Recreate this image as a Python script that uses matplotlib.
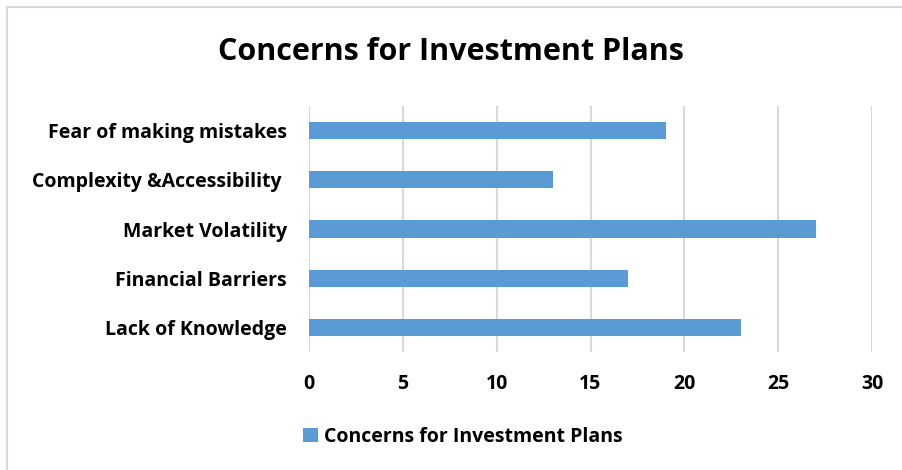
import matplotlib.pyplot as plt
from matplotlib.lines import Line2D

# Survey data
categories = ['Lack of Knowledge', 'Financial Barriers', 'Market Volatility',
              'Complexity &Accessibility ', 'Fear of making mistakes']
counts = [23, 17, 27, 13, 19]
x_ticks = [0, 5, 10, 15, 20, 25, 30]
series_name = 'Concerns for Investment Plans'

bar_color = '#5B9BD5'
grid_color = '#D9D9D9'
plt.rcParams['font.family'] = ['Open Sans', 'DejaVu Sans']
plt.rcParams['font.weight'] = 'bold'

W, H = 902, 470
fig = plt.figure(figsize=(W / 100, H / 100), dpi=100)
ax = fig.add_axes([309 / W, (H - 352) / H, (872 - 309) / W, (352 - 106) / H])

ax.barh(range(len(categories)), counts, height=0.35, color=bar_color,
        label=series_name, zorder=3)
ax.set_ylim(-0.5, len(categories) - 0.5)
ax.set_xlim(x_ticks[0], x_ticks[-1])
ax.set_xticks(x_ticks)
ax.set_yticks(range(len(categories)))
ax.set_yticklabels(categories)
ax.grid(axis='x', color=grid_color, lw=1.5, zorder=0)
ax.tick_params(length=0, labelsize=14, colors='black')
ax.tick_params(axis='x', pad=16)
ax.tick_params(axis='y', pad=16)
for s in ax.spines.values():
    s.set_visible(False)

fig.text(0.5, (H - 52) / H, 'Concerns for Investment Plans', ha='center',
         va='center', fontsize=22, fontweight='bold')

fig.legend(loc='center', bbox_to_anchor=(463 / W, (H - 437) / H),
           frameon=False, fontsize=14, handlelength=0.75, handleheight=0.75,
           handletextpad=0.3)

# light chart-area border (top and left edges)
fig.add_artist(Line2D([6.5 / W, 6.5 / W], [0, (H - 7) / H],
                      transform=fig.transFigure, color=grid_color, lw=1.5))
fig.add_artist(Line2D([6.5 / W, 1], [(H - 7) / H, (H - 7) / H],
                      transform=fig.transFigure, color=grid_color, lw=1.5))

fig.savefig('out.png', dpi=100)
